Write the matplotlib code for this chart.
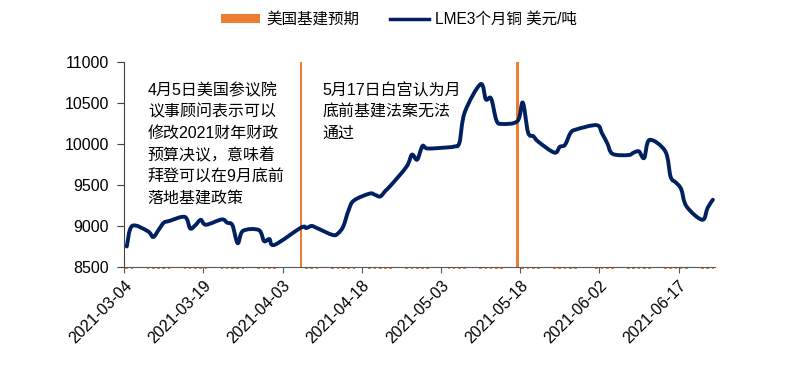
"""LME 3-month copper vs. US infrastructure expectations."""

# Imports
import pandas as pd
import matplotlib.pyplot as plt
import matplotlib.dates as mdates
from matplotlib.patches import Patch, PathPatch
from matplotlib.lines import Line2D
from matplotlib.path import Path

plt.rcParams['font.family'] = ['Liberation Sans', 'Noto Sans CJK SC']

# Data
trade_dates = [
    '2021-03-04', '2021-03-05', '2021-03-08', '2021-03-09', '2021-03-10', '2021-03-11', '2021-03-12',
    '2021-03-15', '2021-03-16', '2021-03-17', '2021-03-18', '2021-03-19',
    '2021-03-22', '2021-03-23', '2021-03-24', '2021-03-25', '2021-03-26',
    '2021-03-29', '2021-03-30', '2021-03-31', '2021-04-01',
    '2021-04-06', '2021-04-07', '2021-04-08', '2021-04-09',
    '2021-04-12', '2021-04-13', '2021-04-14', '2021-04-15', '2021-04-16',
    '2021-04-19', '2021-04-20', '2021-04-21', '2021-04-22', '2021-04-23',
    '2021-04-26', '2021-04-27', '2021-04-28', '2021-04-29', '2021-04-30',
    '2021-05-04', '2021-05-05', '2021-05-06', '2021-05-07',
    '2021-05-10', '2021-05-11', '2021-05-12', '2021-05-13', '2021-05-14',
    '2021-05-17', '2021-05-18', '2021-05-19', '2021-05-20', '2021-05-21',
    '2021-05-24', '2021-05-25', '2021-05-26', '2021-05-27', '2021-05-28',
    '2021-06-01', '2021-06-02', '2021-06-03', '2021-06-04',
    '2021-06-07', '2021-06-08', '2021-06-09', '2021-06-10', '2021-06-11',
    '2021-06-14', '2021-06-15', '2021-06-16', '2021-06-17', '2021-06-18',
    '2021-06-21', '2021-06-22', '2021-06-23',
]
lme_copper = [
    8750, 9000, 8935, 8865, 8950, 9040, 9060,
    9110, 8970, 9010, 9075, 9015,
    9080, 9040, 9010, 8790, 8940,
    8950, 8815, 8840, 8770,
    8980, 8975, 9000, 8975,
    8890, 8910, 8995, 9190, 9310,
    9395, 9380, 9360, 9430, 9495,
    9725, 9870, 9810, 9975, 9945,
    9960, 9970, 10015, 10385,
    10730, 10545, 10555, 10290, 10245,
    10280, 10505, 10140, 10095, 10025,
    9895, 9965, 9990, 10130, 10175,
    10230, 10130, 10010, 9880,
    9865, 9895, 9910, 9830, 10050,
    9910, 9600, 9530, 9450, 9240,
    9075, 9220, 9320,
]
event_dates = ['2021-04-06', '2021-05-17']
tick_labels = ['2021-03-04', '2021-03-19', '2021-04-03', '2021-04-18',
               '2021-05-03', '2021-05-18', '2021-06-02', '2021-06-17']
y_ticks = [8500, 9000, 9500, 10000, 10500, 11000]
note_1 = '4月5日美国参议院\n议事顾问表示可以\n修改2021财年财政\n预算决议，意味着\n拜登可以在9月底前\n落地基建政策'
note_2 = '5月17日白宫认为月\n底前基建法案无法\n通过'

navy = '#002060'
orange = '#ED7D31'

# Points sit in the middle of their day
dates = pd.to_datetime(trade_dates) + pd.Timedelta(hours=12)
events = pd.to_datetime(event_dates) + pd.Timedelta(hours=12)
flags = [1 if d in events else 0 for d in dates]

fig = plt.figure(figsize=(7.98, 3.83), dpi=100)
ax = fig.add_axes([0.1556, 0.303, 0.741, 0.535])
ax2 = ax.twinx()
ax.set_zorder(ax2.get_zorder() + 1)
ax.patch.set_visible(False)

# Expectation bars: full height on event days, small marks elsewhere
for d, f in zip(dates, flags):
    if f:
        ax2.bar(d, f, width=0.45, color=orange, zorder=1)
    else:
        ax2.bar(d, 0.012, bottom=-0.012, width=0.5, color=orange, clip_on=False, zorder=1)
ax2.set_ylim(0, 1)
ax2.set_yticks([])
for s in ax2.spines.values():
    s.set_visible(False)

# Copper price, drawn as a smoothed line (Catmull-Rom segments as Bezier curves)
xs = mdates.date2num(dates)
pts = list(zip(xs, lme_copper))
n = len(pts)
verts = [pts[0]]
codes = [Path.MOVETO]
for i in range(n - 1):
    p0 = pts[max(i - 1, 0)]
    p1 = pts[i]
    p2 = pts[i + 1]
    p3 = pts[min(i + 2, n - 1)]
    c1 = (p1[0] + (p2[0] - p0[0]) / 6, p1[1] + (p2[1] - p0[1]) / 6)
    c2 = (p2[0] - (p3[0] - p1[0]) / 6, p2[1] - (p3[1] - p1[1]) / 6)
    verts += [c1, c2, p2]
    codes += [Path.CURVE4] * 3
ax.add_patch(PathPatch(Path(verts, codes), fill=False, edgecolor=navy, linewidth=2.8,
                       joinstyle='round', capstyle='round', zorder=3))

# Axes formatting
ax.set_ylim(8500, 11000)
ax.set_yticks(y_ticks)
ax.set_xlim(pd.Timestamp('2021-03-04'), pd.Timestamp('2021-06-24'))
ax.set_xticks(pd.to_datetime(tick_labels))
ax.xaxis.set_major_formatter(mdates.DateFormatter('%Y-%m-%d'))
ax.tick_params(axis='y', labelsize=11.5, length=5, color='#404040', pad=6)
ax.tick_params(axis='x', labelsize=11.5, length=4, color='#595959', pad=4)
for lab in ax.get_xticklabels():
    lab.set_rotation(45)
    lab.set_ha('right')
    lab.set_rotation_mode('anchor')
ax.spines['top'].set_visible(False)
ax.spines['right'].set_visible(False)
ax.spines['left'].set_color('#404040')
ax.spines['bottom'].set_color('#595959')

# Notes
ax.text(0.04, 0.9, note_1, transform=ax.transAxes, fontsize=11.5, va='top', ha='left',
        linespacing=1.52)
ax.text(0.335, 0.9, note_2, transform=ax.transAxes, fontsize=11.5, va='top', ha='left',
        linespacing=1.52)

# Legend
handles = [Patch(facecolor=orange, edgecolor='none'),
           Line2D([], [], color=navy, linewidth=2.5)]
labels = ['美国基建预期', 'LME3个月铜 美元/吨']
fig.legend(handles, labels, loc='center', bbox_to_anchor=(0.5, 0.95), ncol=2, frameon=False,
           fontsize=11.2, handlelength=2.5, handleheight=0.5, columnspacing=2.0, handletextpad=0.4)

plt.savefig('out.png', dpi=100)
